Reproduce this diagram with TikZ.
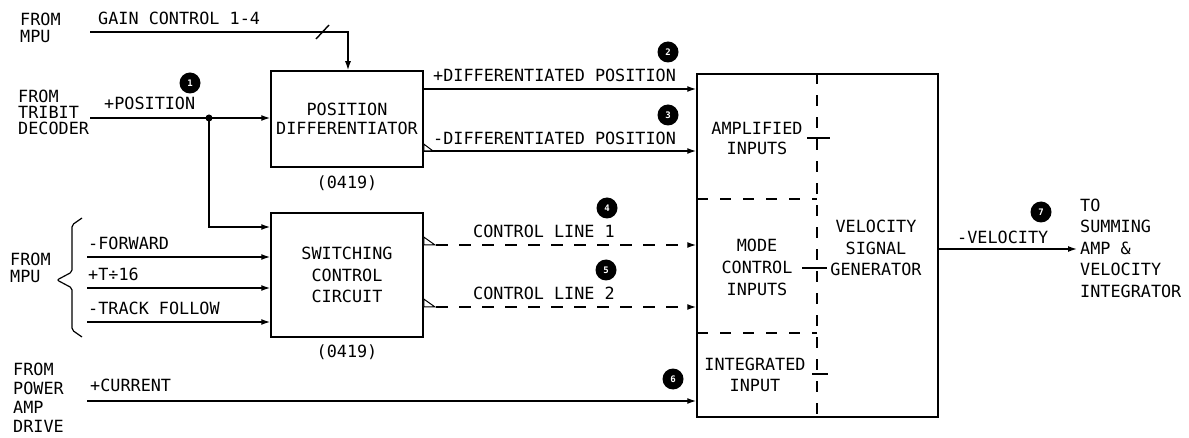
\documentclass[tikz,border=0pt]{standalone}
\usepackage{fontspec}
\setmainfont{DejaVu Sans Mono}
\usetikzlibrary{arrows.meta}
\begin{document}
\begin{tikzpicture}[x=1pt,y=-1pt,
  every node/.style={font=\fontsize{16.8}{20}\selectfont, inner sep=0pt},
  blk/.style={draw, line width=1.5pt, minimum width=152pt, align=center},
  lbl/.style={anchor=west},
  wire/.style={line width=1.4pt},
  arr/.style={wire, -{Latex[length=9pt,width=6pt]}},
  dsh/.style={dash pattern=on 12pt off 11pt},
  num/.style={circle, fill=black, text=white, minimum size=21pt, font=\fontsize{9}{9}\selectfont\bfseries},
  inv/.style={line width=1pt, fill=white}
]
\useasboundingbox (0,0) rectangle (1189,438);

% ---- blocks
\node[blk, minimum height=96pt] (pd) at (347,119) {POSITION\\[-1pt]DIFFERENTIATOR};
\node[blk, minimum height=124pt, font=\fontsize{16.8}{21.5}\selectfont] (sc) at (347,275) {SWITCHING\\CONTROL\\CIRCUIT};
\node[blk, minimum width=241pt, minimum height=343pt] (vg) at (817.5,245.5) {};
\node (pdn) at (347,183) {(0419)};
\node (scn) at (347,352) {(0419)};

% ---- internal partitions
\draw[wire, dash pattern=on 11pt off 11pt] (vg.north -| 817,0) -- (vg.south -| 817,0);
\draw[wire, dash pattern=on 11pt off 12pt] (697,199) -- (817,199);
\draw[wire, dash pattern=on 11pt off 12pt] (697,333) -- (817,333);
\draw[wire] (807,138) -- (830,138);
\draw[wire] (802,268) -- (827,268);
\draw[wire] (812,374) -- (828,374);

\node[align=center, font=\fontsize{16.8}{20}\selectfont] (amp) at (757,138) {AMPLIFIED\\INPUTS};
\node[align=center, font=\fontsize{16.8}{22}\selectfont] (mode) at (757,267) {MODE\\CONTROL\\INPUTS};
\node[align=center, font=\fontsize{16.8}{21}\selectfont] (intg) at (755,375) {INTEGRATED\\INPUT};
\node[align=center, font=\fontsize{16.8}{21.5}\selectfont] (vsg) at (876,248) {VELOCITY\\SIGNAL\\GENERATOR};

% ---- left labels
\node[lbl, align=left, font=\fontsize{16.8}{17}\selectfont] (fmpu1) at (20,28) {FROM\\MPU};
\node[lbl] (gain) at (98,18) {GAIN CONTROL 1-4};
\node[lbl, align=left, font=\fontsize{16.8}{16}\selectfont] (ftri) at (18,112) {FROM\\TRIBIT\\DECODER};
\node[lbl] (pos) at (104,103) {+POSITION};
\node[lbl, align=left, font=\fontsize{16.8}{17}\selectfont] (fmpu2) at (10,268) {FROM\\MPU};
\node[lbl] (fwdl) at (88,243) {-FORWARD};
\node[lbl] (tl) at (88,274) {+T÷16};
\node[lbl] (trl) at (88,308) {-TRACK FOLLOW};
\node[lbl, align=left, font=\fontsize{16.8}{19}\selectfont] (fpow) at (13,398) {FROM\\POWER\\AMP\\DRIVE};
\node[lbl] (curl) at (90,385) {+CURRENT};

% ---- brace
\draw[wire, line width=1.2pt, rounded corners=2pt] (82,218) -- (72,225) -- (72,272) -- (57,280) -- (72,288) -- (72,330) -- (82,337);

% ---- connectors
\coordinate (gsrc) at (90,32);
\coordinate (gcor) at (348,32);
\draw[arr] (gsrc) -- (gcor) -- (gcor |- pd.north);
\draw[wire] (316,39) -- (329,25);

\coordinate (psrc) at (90,118);
\coordinate (split) at (209,118);
\coordinate (pcor) at (209,227);
\draw[arr] (psrc) -- (pd.west |- psrc);
\draw[arr] (split) -- (pcor) -- (sc.west |- pcor);
\fill (split) circle (3.5pt);

\coordinate (fwd) at (87,257);
\coordinate (tsrc) at (87,288);
\coordinate (trk) at (87,322);
\coordinate (cur) at (87,401);
\draw[arr] (fwd) -- (sc.west |- fwd);
\draw[arr] (tsrc) -- (sc.west |- tsrc);
\draw[arr] (trk) -- (sc.west |- trk);
\draw[arr] (cur) -- (vg.west |- cur);

\coordinate (dp) at (0,89);
\coordinate (dm) at (0,151);
\draw[arr] (pd.east |- dp) -- (vg.west |- dp);
\draw[arr] (pd.east |- dm) -- (vg.west |- dm);
\draw[inv] (pd.east |- 0,144) -- (433,151) -- (pd.east |- dm) -- cycle;

\coordinate (c1a) at (436,245);
\coordinate (c2a) at (436,307);
\draw[arr, dsh] (c1a) -- (vg.west |- c1a);
\draw[arr, dsh] (c2a) -- (vg.west |- c2a);
\draw[inv] (sc.east |- 0,237) -- (435,245) -- (sc.east |- c1a) -- cycle;
\draw[inv] (sc.east |- 0,299) -- (435,307) -- (sc.east |- c2a) -- cycle;

\coordinate (vout) at (0,249);
\coordinate (vend) at (1077,249);
\draw[arr] (vg.east |- vout) -- (vend);

% ---- connector labels
\node[lbl] (dpl) at (433,75) {+DIFFERENTIATED POSITION};
\node[lbl] (dml) at (433,138) {-DIFFERENTIATED POSITION};
\node[lbl] (cl1) at (473,231) {CONTROL LINE 1};
\node[lbl] (cl2) at (473,293) {CONTROL LINE 2};
\node[lbl] (vel) at (957,237) {-VELOCITY};
\node[lbl, align=left, font=\fontsize{16.8}{21.5}\selectfont] (to) at (1080,248) {TO\\SUMMING\\AMP \&\\VELOCITY\\INTEGRATOR};

% ---- numbered markers
\node[num] (n1) at (190,83) {1};
\node[num] (n2) at (668,52) {2};
\node[num] (n3) at (668,115) {3};
\node[num] (n4) at (607,208) {4};
\node[num] (n5) at (606,270) {5};
\node[num] (n6) at (673,379) {6};
\node[num] (n7) at (1041,212) {7};
\end{tikzpicture}
\end{document}
